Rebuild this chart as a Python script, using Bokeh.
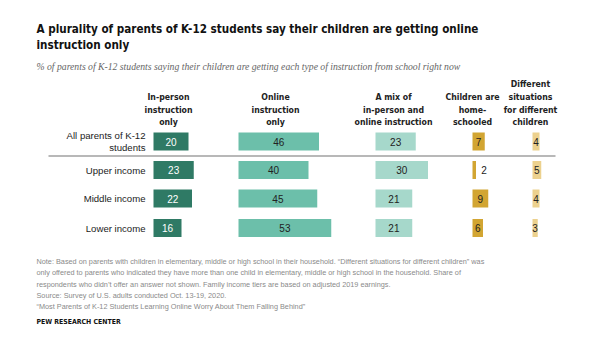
from bokeh.plotting import figure
from bokeh.models import Range1d
from bokeh.core.properties import value
from bokeh.embed import file_html
from bokeh.resources import INLINE

# ---- data ----
groups = ["All parents of K-12\nstudents", "Upper income", "Middle income", "Lower income"]
in_person = [20, 23, 22, 16]
online = [46, 40, 45, 53]
mix = [23, 30, 21, 21]
home = [7, 2, 9, 6]
different = [4, 5, 4, 3]
headers = ["In-person\ninstruction\nonly", "Online\ninstruction\nonly",
           "A mix of\nin-person and\nonline instruction", "Children are\nhome-\nschooled",
           "Different\nsituations\nfor different\nchildren"]

title_lines = ["A plurality of parents of K-12 students say their children are getting online",
               "instruction only"]
subtitle = "% of parents of K-12 students saying their children are getting each type of instruction from school right now"
notes = [
    "Note: Based on parents with children in elementary, middle or high school in their household. \u201cDifferent situations for different children\u201d was",
    "only offered to parents who indicated they have more than one child in elementary, middle or high school in the household. Share of",
    "respondents who didn\u2019t offer an answer not shown. Family income tiers are based on adjusted 2019 earnings.",
    "Source: Survey of U.S. adults conducted Oct. 13-19, 2020.",
    "\u201cMost Parents of K-12 Students Learning Online Worry About Them Falling Behind\u201d",
]

# ---- layout (pixel-like data space) ----
W, H = 600, 349
SCALE = 1.75
col_start = [153, 238, 375, 472, 532]
row_y = [141, 169.5, 198, 227.5]
colors = ["#2f7a65", "#6cbfaa", "#a6d8cb", "#d2a532", "#ecd18e"]
text_colors = ["white", "#222222", "#222222", "#222222", "#222222"]

NARROW = value("DejaVu Sans Condensed")
SANS = value("Liberation Sans")

p = figure(width=W, height=H, x_range=Range1d(0, W), y_range=Range1d(H, 0),
           output_backend="svg", toolbar_location=None, min_border=0)
p.axis.visible = False
p.grid.visible = False
p.outline_line_color = None
p.background_fill_color = "white"

# title / subtitle
for i, t in enumerate(title_lines):
    p.text(x=[36], y=[28 + 16 * i], text=[t], text_font=NARROW, text_font_style="bold",
           text_font_size="11.6px", text_color="#111111", text_baseline="middle")
p.text(x=[36], y=[66], text=[subtitle], text_font=value("Liberation Serif"),
       text_font_style="italic", text_font_size="9.7px", text_color="#666666",
       text_baseline="middle")

# headers
header_x = [168, 275, 393, 472, 530]
for hx, h in zip(header_x, headers):
    p.text(x=[hx], y=[127], text=[h], text_font=NARROW, text_font_style="bold",
           text_font_size="8.7px", text_color="#222222", text_align="center",
           text_baseline="bottom", text_line_height=1.27)

# row labels
for ry, g in zip(row_y, groups):
    p.text(x=[145], y=[ry], text=[g], text_font=SANS, text_font_size="9.6px",
           text_color="#222222", text_align="right", text_baseline="middle",
           text_line_height=1.15)

# separator
p.segment(x0=[48], y0=[155.5], x1=[555], y1=[155.5], line_color="#a0a0a0", line_width=1.5)

# bars and values
series = [in_person, online, mix, home, different]
for s, vals in enumerate(series):
    lefts = [col_start[s]] * len(vals)
    rights = [col_start[s] + v * SCALE for v in vals]
    p.hbar(y=row_y, left=lefts, right=rights, height=18, fill_color=colors[s],
           line_color=None)
    lx, tc = [], []
    for v, l, r in zip(vals, lefts, rights):
        if v <= 2:
            lx.append(r + 8)
            tc.append("#222222")
        else:
            lx.append((l + r) / 2)
            tc.append(text_colors[s])
    p.text(x=lx, y=row_y, text=[str(v) for v in vals], text_font=SANS,
           text_font_size="10px", text_color=tc, text_align="center",
           text_baseline="middle")

# footer
for i, n in enumerate(notes):
    p.text(x=[36], y=[261 + i * 11.3], text=[n], text_font=SANS,
           text_font_size="7.3px", text_color="#8a8a8a", text_baseline="middle")
p.text(x=[36], y=[321], text=["PEW RESEARCH CENTER"], text_font=NARROW,
       text_font_style="bold", text_font_size="6.9px", text_color="#111111",
       text_baseline="middle")

open("out.html", "w").write(file_html(p, INLINE))
